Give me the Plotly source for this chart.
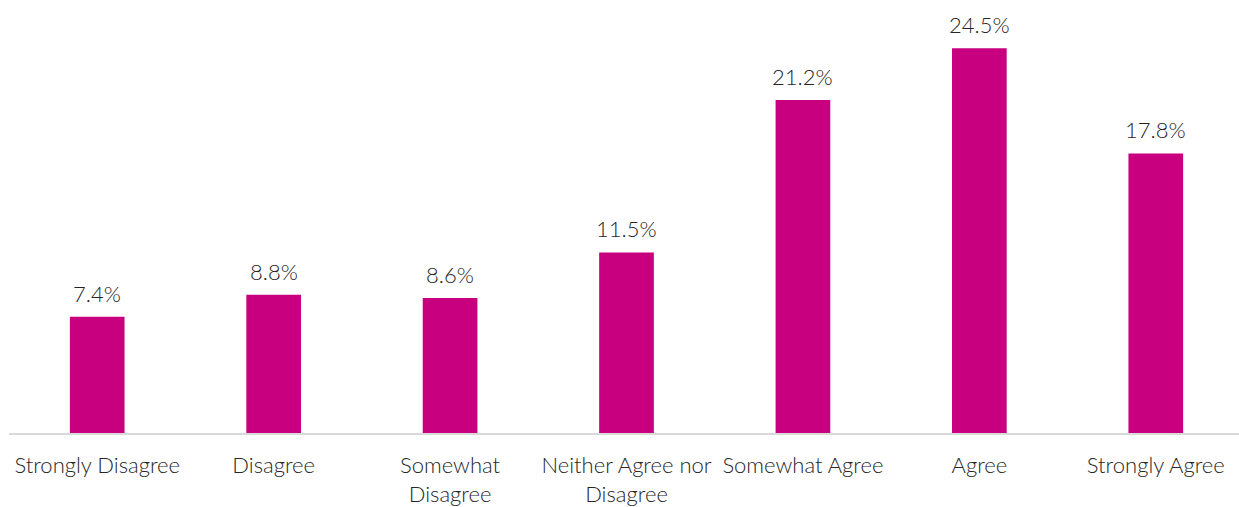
import plotly.graph_objects as go

categories = ["Strongly Disagree", "Disagree", "Somewhat<br>Disagree", "Neither Agree nor<br>Disagree",
              "Somewhat Agree", "Agree", "Strongly Agree"]
values = [7.4, 8.8, 8.6, 11.5, 21.2, 24.5, 17.8]
labels = ["7.4%", "8.8%", "8.6%", "11.5%", "21.2%", "24.5%", "17.8%"]

FONT = dict(family="Lato", size=22, color="#262626", weight=300)

fig = go.Figure(go.Bar(
    x=categories, y=values,
    marker=dict(color="#C8007F", line=dict(width=0)),
    cliponaxis=False, width=0.31, hoverinfo="skip",
))
for c, v, t in zip(categories, values, labels):
    fig.add_annotation(x=c, y=v, text=t, showarrow=False, yanchor="bottom",
                       yshift=8, font=FONT)
fig.update_layout(
    width=1244, height=507,
    margin=dict(l=9, r=0, t=9, b=74),
    plot_bgcolor="white", paper_bgcolor="white",
    showlegend=False,
    font=FONT,
)
fig.update_xaxes(showline=True, linecolor="#D9D9D9", linewidth=2, ticks="outside",
                 ticklen=12, tickcolor="rgba(0,0,0,0)", tickfont=FONT,
                 tickangle=0, automargin=False)
fig.update_yaxes(visible=False, range=[0, 27], automargin=False)
fig.write_html("out.html", post_script="document.body.style.margin='0';document.body.style.overflow='hidden';",
               config={"displayModeBar": False})
